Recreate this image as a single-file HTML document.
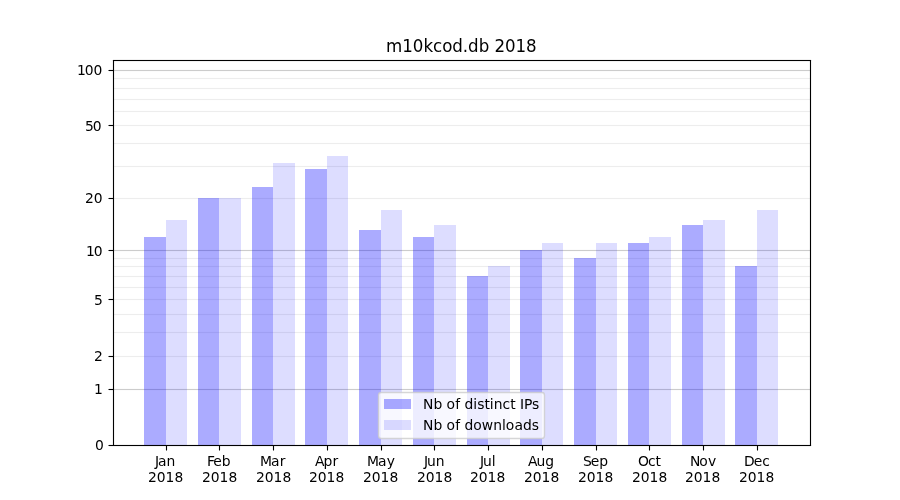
<!DOCTYPE html>
<html lang="en">
<head>
<meta charset="utf-8">
<title>m10kcod.db 2018</title>
<style>
html,body{margin:0;padding:0;background:#fff;width:900px;height:500px;overflow:hidden}
svg{display:block}
text{font-family:"DejaVu Sans","Liberation Sans",sans-serif;fill:#000;font-size:13.889px}
.t{font-size:16.667px}
.g1{stroke:#000;stroke-opacity:.2;stroke-width:1.111}
.g2{stroke:#000;stroke-opacity:.07;stroke-width:1.111}
.k{stroke:#000;stroke-width:1.111;fill:none}
.b1{fill:#00f;fill-opacity:.33;shape-rendering:crispEdges}
.b2{fill:#00f;fill-opacity:.133;shape-rendering:crispEdges}
</style>
</head>
<body>
<svg width="900" height="500" viewBox="0 0 900 500">
<rect width="900" height="500" fill="#fff"/>
<g id="grid">
<line class="g1" x1="113" x2="810.5" y1="70.5" y2="70.5"/>
<line class="g1" x1="113" x2="810.5" y1="250.5" y2="250.5"/>
<line class="g1" x1="113" x2="810.5" y1="389.5" y2="389.5"/>
<line class="g2" x1="113" x2="810.5" y1="78.5" y2="78.5"/>
<line class="g2" x1="113" x2="810.5" y1="88.5" y2="88.5"/>
<line class="g2" x1="113" x2="810.5" y1="99.5" y2="99.5"/>
<line class="g2" x1="113" x2="810.5" y1="111.5" y2="111.5"/>
<line class="g2" x1="113" x2="810.5" y1="125.5" y2="125.5"/>
<line class="g2" x1="113" x2="810.5" y1="143.5" y2="143.5"/>
<line class="g2" x1="113" x2="810.5" y1="166.5" y2="166.5"/>
<line class="g2" x1="113" x2="810.5" y1="198.5" y2="198.5"/>
<line class="g2" x1="113" x2="810.5" y1="258.5" y2="258.5"/>
<line class="g2" x1="113" x2="810.5" y1="266.5" y2="266.5"/>
<line class="g2" x1="113" x2="810.5" y1="276.5" y2="276.5"/>
<line class="g2" x1="113" x2="810.5" y1="287.5" y2="287.5"/>
<line class="g2" x1="113" x2="810.5" y1="299.5" y2="299.5"/>
<line class="g2" x1="113" x2="810.5" y1="314.5" y2="314.5"/>
<line class="g2" x1="113" x2="810.5" y1="332.5" y2="332.5"/>
<line class="g2" x1="113" x2="810.5" y1="356.5" y2="356.5"/>
</g>
<g id="gridfringe" fill="#000" shape-rendering="crispEdges">
<rect x="114" y="69" width="696" height="1" fill-opacity=".012"/><rect x="114" y="71" width="696" height="1" fill-opacity=".012"/>
<rect x="114" y="249" width="696" height="1" fill-opacity=".012"/><rect x="114" y="251" width="696" height="1" fill-opacity=".012"/>
<rect x="114" y="388" width="696" height="1" fill-opacity=".012"/><rect x="114" y="390" width="696" height="1" fill-opacity=".012"/>
<rect x="114" y="77" width="696" height="1" fill-opacity=".005"/><rect x="114" y="79" width="696" height="1" fill-opacity=".005"/>
<rect x="114" y="87" width="696" height="1" fill-opacity=".005"/><rect x="114" y="89" width="696" height="1" fill-opacity=".005"/>
<rect x="114" y="98" width="696" height="1" fill-opacity=".005"/><rect x="114" y="100" width="696" height="1" fill-opacity=".005"/>
<rect x="114" y="110" width="696" height="1" fill-opacity=".005"/><rect x="114" y="112" width="696" height="1" fill-opacity=".005"/>
<rect x="114" y="124" width="696" height="1" fill-opacity=".005"/><rect x="114" y="126" width="696" height="1" fill-opacity=".005"/>
<rect x="114" y="142" width="696" height="1" fill-opacity=".005"/><rect x="114" y="144" width="696" height="1" fill-opacity=".005"/>
<rect x="114" y="165" width="696" height="1" fill-opacity=".005"/><rect x="114" y="167" width="696" height="1" fill-opacity=".005"/>
<rect x="114" y="197" width="696" height="1" fill-opacity=".005"/><rect x="114" y="199" width="696" height="1" fill-opacity=".005"/>
<rect x="114" y="257" width="696" height="1" fill-opacity=".005"/><rect x="114" y="259" width="696" height="1" fill-opacity=".005"/>
<rect x="114" y="265" width="696" height="1" fill-opacity=".005"/><rect x="114" y="267" width="696" height="1" fill-opacity=".005"/>
<rect x="114" y="275" width="696" height="1" fill-opacity=".005"/><rect x="114" y="277" width="696" height="1" fill-opacity=".005"/>
<rect x="114" y="286" width="696" height="1" fill-opacity=".005"/><rect x="114" y="288" width="696" height="1" fill-opacity=".005"/>
<rect x="114" y="298" width="696" height="1" fill-opacity=".005"/><rect x="114" y="300" width="696" height="1" fill-opacity=".005"/>
<rect x="114" y="313" width="696" height="1" fill-opacity=".005"/><rect x="114" y="315" width="696" height="1" fill-opacity=".005"/>
<rect x="114" y="331" width="696" height="1" fill-opacity=".005"/><rect x="114" y="333" width="696" height="1" fill-opacity=".005"/>
<rect x="114" y="355" width="696" height="1" fill-opacity=".005"/><rect x="114" y="357" width="696" height="1" fill-opacity=".005"/>
</g>
<g id="bars">
<rect class="b1" x="144" y="237" width="22" height="208"/><rect class="b2" x="166" y="220" width="21" height="225"/>
<rect class="b1" x="198" y="198" width="21" height="247"/><rect class="b2" x="219" y="198" width="22" height="247"/>
<rect class="b1" x="252" y="187" width="21" height="258"/><rect class="b2" x="273" y="163" width="22" height="282"/>
<rect class="b1" x="305" y="169" width="22" height="276"/><rect class="b2" x="327" y="156" width="21" height="289"/>
<rect class="b1" x="359" y="230" width="22" height="215"/><rect class="b2" x="381" y="210" width="21" height="235"/>
<rect class="b1" x="413" y="237" width="21" height="208"/><rect class="b2" x="434" y="225" width="22" height="220"/>
<rect class="b1" x="467" y="276" width="21" height="169"/><rect class="b2" x="488" y="266" width="22" height="179"/>
<rect class="b1" x="520" y="250" width="22" height="195"/><rect class="b2" x="542" y="243" width="21" height="202"/>
<rect class="b1" x="574" y="258" width="22" height="187"/><rect class="b2" x="596" y="243" width="21" height="202"/>
<rect class="b1" x="628" y="243" width="21" height="202"/><rect class="b2" x="649" y="237" width="22" height="208"/>
<rect class="b1" x="682" y="225" width="21" height="220"/><rect class="b2" x="703" y="220" width="22" height="225"/>
<rect class="b1" x="735" y="266" width="22" height="179"/><rect class="b2" x="757" y="210" width="21" height="235"/>
</g>
<g id="ticks" class="k">
<line x1="166.5" x2="166.5" y1="445.5" y2="450.5"/><line x1="219.5" x2="219.5" y1="445.5" y2="450.5"/><line x1="273.5" x2="273.5" y1="445.5" y2="450.5"/><line x1="327.5" x2="327.5" y1="445.5" y2="450.5"/><line x1="381.5" x2="381.5" y1="445.5" y2="450.5"/><line x1="434.5" x2="434.5" y1="445.5" y2="450.5"/><line x1="488.5" x2="488.5" y1="445.5" y2="450.5"/><line x1="542.5" x2="542.5" y1="445.5" y2="450.5"/><line x1="596.5" x2="596.5" y1="445.5" y2="450.5"/><line x1="649.5" x2="649.5" y1="445.5" y2="450.5"/><line x1="703.5" x2="703.5" y1="445.5" y2="450.5"/><line x1="757.5" x2="757.5" y1="445.5" y2="450.5"/>
<line x1="108.5" x2="113.5" y1="445.5" y2="445.5"/><line x1="108.5" x2="113.5" y1="389.5" y2="389.5"/><line x1="108.5" x2="113.5" y1="356.5" y2="356.5"/><line x1="108.5" x2="113.5" y1="299.5" y2="299.5"/><line x1="108.5" x2="113.5" y1="250.5" y2="250.5"/><line x1="108.5" x2="113.5" y1="198.5" y2="198.5"/><line x1="108.5" x2="113.5" y1="125.5" y2="125.5"/><line x1="108.5" x2="113.5" y1="70.5" y2="70.5"/>
</g>
<g fill="#000" fill-opacity=".055" shape-rendering="crispEdges"><rect x="113" y="59" width="698" height="3"/><rect x="113" y="444" width="698" height="3"/></g>
<g id="spines" class="k" stroke-linecap="square">
<line x1="113.5" x2="113.5" y1="60.5" y2="445.5"/><line x1="810.5" x2="810.5" y1="60.5" y2="445.5"/><line x1="113.5" x2="810.5" y1="445.5" y2="445.5"/><line x1="113.5" x2="810.5" y1="60.5" y2="60.5"/>
</g>
<g id="xlabels">
<text x="154.963 158.041 166.557" y="466">Jan</text><text x="147.964 156.776 165.604 174.432" y="482">2018</text>
<text x="206.892 213.236 221.767" y="466">Feb</text><text x="201.949 210.762 219.59 228.418" y="482">2018</text>
<text x="259.883 271.101 279.851" y="466">Mar</text><text x="255.968 264.78 273.608 282.436" y="482">2018</text>
<text x="314.989 323.598 332.411" y="466">Apr</text><text x="308.954 317.766 326.594 335.422" y="482">2018</text>
<text x="366.882 378.1 386.85" y="466">May</text><text x="362.941 371.753 380.581 389.409" y="482">2018</text>
<text x="423.969 427.047 435.844" y="466">Jun</text><text x="416.958 425.771 434.599 443.427" y="482">2018</text>
<text x="479.958 483.036 491.833" y="466">Jul</text><text x="469.945 478.758 487.586 496.414" y="482">2018</text>
<text x="527.889 536.498 545.295" y="466">Aug</text><text x="523.962 532.775 541.603 550.431" y="482">2018</text>
<text x="582.938 590.735 599.282" y="466">Sep</text><text x="577.949 586.762 595.59 604.418" y="482">2018</text>
<text x="637.914 647.945 655.586" y="466">Oct</text><text x="631.966 640.779 649.607 658.435" y="482">2018</text>
<text x="689.948 699.323 708.057" y="466">Nov</text><text x="684.953 693.766 702.594 711.422" y="482">2018</text>
<text x="743.893 753.815 762.362" y="466">Dec</text><text x="738.94 747.752 756.58 765.408" y="482">2018</text>
</g>
<g id="ylabels">
<text x="95.012" y="450">0</text>
<text x="94.012" y="394">1</text>
<text x="94.012" y="361">2</text>
<text x="94.012" y="305">5</text>
<text x="85.997 93.809" y="256">10</text>
<text x="84.997 93.809" y="203">20</text>
<text x="84.997 92.809" y="131">50</text>
<text x="76.95 84.762 93.59" y="75">100</text>
</g>
<text class="t" transform="translate(0 52) scale(1 1.07)" x="385.938 402.156 412.75 423.469 433 442.156 452.344 462.797 468.078 478.781 489.359 494.406 505 515.594 526.062" y="0">m10kcod.db 2018</text>
<g id="legend">
<rect x="378.5" y="392.5" width="166" height="46" rx="2.78" ry="2.78" fill="#fff" fill-opacity=".79" stroke="#ccc" stroke-opacity=".8" stroke-width="1.389"/>
<rect class="b1" x="384" y="399" width="27" height="10"/>
<rect class="b2" x="384" y="420" width="27" height="10"/>
<text x="423.12 433.495 442.292 446.589 455.198 460.089 464.495 473.307 477.151 484.386 489.823 493.682 502.479 510.229 515.542 519.948 524.042 532.042" y="409">Nb of distinct IPs</text>
<text x="423.12 433.495 442.292 446.589 455.198 460.089 464.495 473.307 481.792 493.136 501.932 505.792 514.401 522.901 531.714" y="430">Nb of downloads</text>
</g>
</svg>
</body>
</html>
